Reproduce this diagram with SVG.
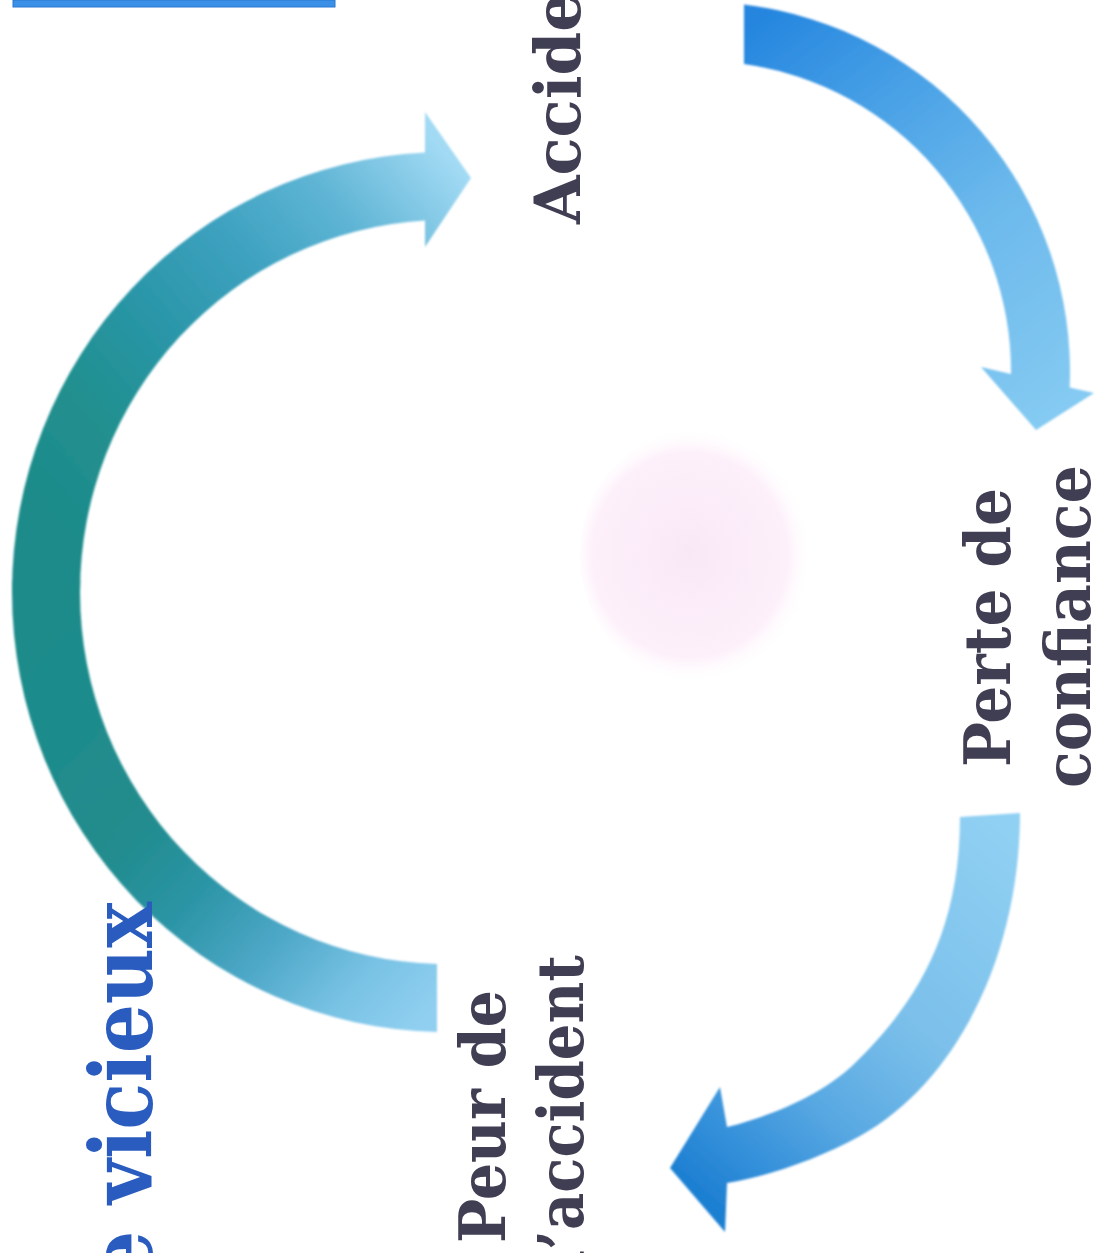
<svg xmlns="http://www.w3.org/2000/svg" width="1102" height="1253" viewBox="0 0 1102 1253">
<defs>
<style>
.lbl{font-family:"DejaVu Serif","Liberation Serif",serif;font-weight:bold;font-size:64px;fill:#403e52}
.ttl{font-family:"DejaVu Serif","Liberation Serif",serif;font-weight:bold;font-size:86px;fill:#2a5cbf}
.arr{filter:url(#soft)}
</style>
<filter id="soft" x="-5%" y="-5%" width="110%" height="110%"><feGaussianBlur stdDeviation="1.2"/></filter>
<linearGradient id="gUp" gradientUnits="userSpaceOnUse" x1="460" y1="170" x2="40" y2="520">
<stop offset="0" stop-color="#a2daf4"/><stop offset="0.22" stop-color="#5eb4d4"/><stop offset="0.4" stop-color="#3ea2c0"/><stop offset="0.6" stop-color="#2a96a8"/><stop offset="0.8" stop-color="#21908f"/><stop offset="1" stop-color="#1e8b8a"/>
</linearGradient>
<linearGradient id="gLow" gradientUnits="userSpaceOnUse" x1="20" y1="620" x2="440" y2="1000">
<stop offset="0" stop-color="#1e8b8a"/><stop offset="0.4" stop-color="#218c8e"/><stop offset="0.56" stop-color="#2c95a6"/><stop offset="0.72" stop-color="#4ea8c8"/><stop offset="0.87" stop-color="#78c2e4"/><stop offset="1" stop-color="#90cff0"/>
</linearGradient>
<linearGradient id="gTR" gradientUnits="userSpaceOnUse" x1="744" y1="30" x2="1040" y2="420">
<stop offset="0" stop-color="#2586df"/><stop offset="0.3" stop-color="#4aa2e6"/><stop offset="0.6" stop-color="#6cb9ec"/><stop offset="1" stop-color="#84caf2"/>
</linearGradient>
<linearGradient id="gBR" gradientUnits="userSpaceOnUse" x1="990" y1="820" x2="680" y2="1170">
<stop offset="0" stop-color="#90d0f3"/><stop offset="0.45" stop-color="#7abfea"/><stop offset="0.7" stop-color="#58a8e2"/><stop offset="0.88" stop-color="#3490da"/><stop offset="1" stop-color="#1f80d2"/>
</linearGradient>
<radialGradient id="gPink" cx="0.45" cy="0.5" r="0.5">
<stop offset="0" stop-color="#f8e8f6"/><stop offset="0.8" stop-color="#fdf0fa"/><stop offset="1" stop-color="#ffffff" stop-opacity="0"/>
</radialGradient>
</defs>
<rect width="1102" height="1253" fill="#ffffff"/>
<g id="title-bar"><rect x="13" y="0" width="322" height="7" fill="#3a8fe6" stroke="#2a78d0" stroke-width="1"/></g>
<g id="centre-spot"><ellipse cx="702" cy="555" rx="122" ry="128" fill="url(#gPink)"/></g>
<g id="connectors">
<g class="arr">
<path fill="url(#gLow)" d="M 80.2,580 L 12.2,580 L 12,592 A 434 440 0 0 0 437,1031.9 L 437,963.9 A 366 372 0 0 1 80,592 Z"/>
<path fill="url(#gUp)" d="M 12,592 A 434 440 0 0 1 425,152.5 L 425,112 L 471,178 L 425,247 L 425,220.6 A 366 372 0 0 0 80,592 Z"/>
</g>
<path class="arr" fill="url(#gTR)" d="M 744,4.6 A 370 370 0 0 1 1069.7,387.4 L 1094,393 L 1036,430 L 981,367 L 1011,373.9 A 311 311 0 0 0 744,64 Z"/>
<path class="arr" fill="url(#gBR)" d="M 1020,813 C 1020,950 960,1080 860,1136 C 820,1158 770,1176 727,1183 L 725,1232 L 670,1168 L 720,1087 L 727,1127 C 775,1115 822,1094 852,1066 C 910,1010 960,940 960,817 Z"/>
</g>
<g id="node-title"><text class="ttl" transform="translate(152,1280) rotate(-90)" textLength="378" lengthAdjust="spacingAndGlyphs">e vicieux</text></g>
<g id="node-accident"><text class="lbl" transform="translate(580,224) rotate(-90)" textLength="232" lengthAdjust="spacingAndGlyphs">Accide</text></g>
<g id="node-perte"><text class="lbl" transform="translate(1010,767) rotate(-90)" textLength="279" lengthAdjust="spacingAndGlyphs">Perte de</text><text class="lbl" transform="translate(1090,788) rotate(-90)" textLength="323" lengthAdjust="spacingAndGlyphs">confiance</text></g>
<g id="node-peur"><text class="lbl" transform="translate(505,1243) rotate(-90)" textLength="253" lengthAdjust="spacingAndGlyphs">Peur de</text><text class="lbl" transform="translate(583,1272) rotate(-90)" textLength="317" lengthAdjust="spacingAndGlyphs">l’accident</text></g>
</svg>
